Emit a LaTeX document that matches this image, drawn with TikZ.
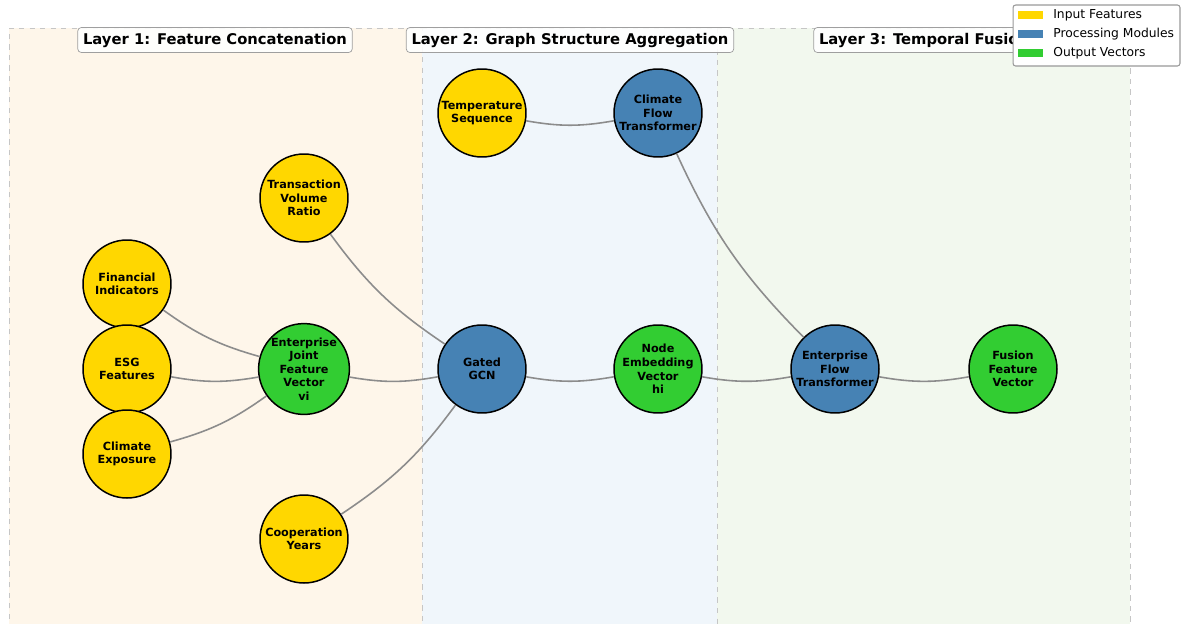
\documentclass[tikz,border=0pt]{standalone}
\usepackage{fontspec}
\setmainfont{DejaVu Sans}
\usetikzlibrary{positioning}
\definecolor{inputcol}{HTML}{FFD700}
\definecolor{proccol}{HTML}{4682B4}
\definecolor{outcol}{HTML}{32CD32}
\definecolor{panelA}{HTML}{FEF6EA}
\definecolor{panelB}{HTML}{F0F6FB}
\definecolor{panelC}{HTML}{F2F8EE}
\definecolor{edgecol}{HTML}{8C8C8C}
\tikzset{
  vertex/.style={circle,draw,line width=0.85pt,minimum size=1.76cm,inner sep=0pt,
    align=center,font=\fontsize{6.4}{7.7}\selectfont\bfseries},
  inputnode/.style={vertex,fill=inputcol},
  procnode/.style={vertex,fill=proccol},
  outnode/.style={vertex,fill=outcol},
  link/.style={edgecol,line width=0.9pt,bend right=10},
  panel/.style={draw=gray!45,dashed,line width=0.4pt},
  layertitle/.style={draw=gray!75,fill=white,fill opacity=0.9,text opacity=1,
    rounded corners=2pt,inner sep=3pt,font=\fontsize{8.4}{10}\selectfont\bfseries},
  legendpatch/.style={minimum width=0.5cm,minimum height=0.16cm,inner sep=0pt},
  legendtext/.style={anchor=west,inner sep=0pt,font=\fontsize{7}{8}\selectfont},
}
\begin{document}
\begin{tikzpicture}[x=0.02cm,y=-0.02cm]
        \useasboundingbox (0,0) rectangle (1183,623);

        % Layer panels
        \fill[panelA] (9,28) rectangle (422,640);
        \fill[panelB] (422,28) rectangle (717,640);
        \fill[panelC] (717,28) rectangle (1130,640);
        \draw[panel] (9,640) -- (9,28) -- (422,28) -- (422,640);
        \draw[panel] (422,28) -- (717,28) -- (717,640);
        \draw[panel] (717,28) -- (1130,28) -- (1130,640);

        % Define vertices by coordinates
        \node[inputnode] (fin) at (127,284) {Financial\\Indicators};
        \node[inputnode] (esg) at (127,369) {ESG\\Features};
        \node[inputnode] (clex) at (127,454) {Climate\\Exposure};
        \node[inputnode] (tvr) at (304,198) {Transaction\\Volume\\Ratio};
        \node[outnode] (ejfv) at (304,369) {Enterprise\\Joint\\Feature\\Vector\\vi};
        \node[inputnode] (coop) at (304,539) {Cooperation\\Years};
        \node[inputnode] (temp) at (482,113) {Temperature\\Sequence};
        \node[procnode] (cft) at (658,113) {Climate\\Flow\\Transformer};
        \node[procnode] (ggcn) at (482,369) {Gated\\GCN};
        \node[outnode] (nev) at (658,369) {Node\\Embedding\\Vector\\hi};
        \node[procnode] (eft) at (835,369) {Enterprise\\Flow\\Transformer};
        \node[outnode] (ffv) at (1013,369) {Fusion\\Feature\\Vector};

        % Draw edges
        \draw[link] (fin) to (ejfv);
        \draw[link] (esg) to (ejfv);
        \draw[link] (clex) to (ejfv);
        \draw[link] (ejfv) to (ggcn);
        \draw[link] (tvr) to (ggcn);
        \draw[link] (coop) to (ggcn);
        \draw[link] (ggcn) to (nev);
        \draw[link] (temp) to (cft);
        \draw[link] (cft) to (eft);
        \draw[link] (nev) to (eft);
        \draw[link] (eft) to (ffv);

        % Layer titles
        \node[layertitle] (t1) at (215,40) {Layer 1: Feature Concatenation};
        \node[layertitle] (t2) at (570,40) {Layer 2: Graph Structure Aggregation};
        \node[layertitle] (t3) at (924,40) {Layer 3: Temporal Fusion};

        % Legend
        \node[draw=gray!80,fill=white,rounded corners=1.5pt,line width=0.6pt,
          minimum width=3.34cm,minimum height=1.22cm,inner sep=0pt] (legend) at (1096.5,35.5) {};
        \node[legendpatch,fill=inputcol] (lp1) at (1030.5,15) {};
        \node[legendpatch,fill=proccol] (lp2) at (1030.5,34) {};
        \node[legendpatch,fill=outcol] (lp3) at (1030.5,53) {};
        \node[legendtext] (lt1) at (1053,15) {Input Features};
        \node[legendtext] (lt2) at (1053,34) {Processing Modules};
        \node[legendtext] (lt3) at (1053,53) {Output Vectors};

\end{tikzpicture}
\end{document}
